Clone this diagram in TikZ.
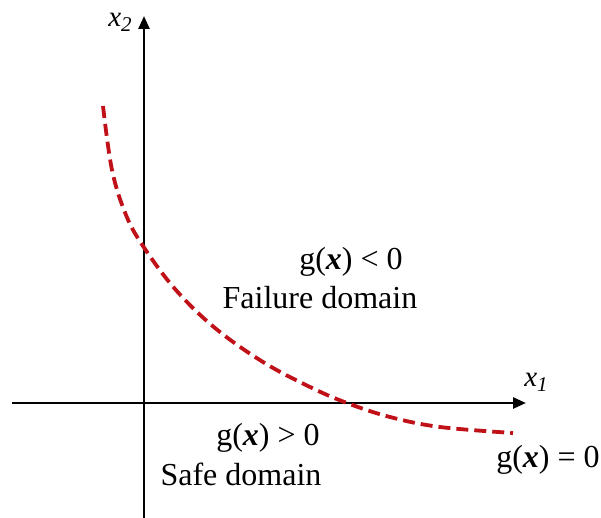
\documentclass[tikz,border=0pt]{standalone}
\usepackage{fontspec}
\setmainfont{Liberation Serif}
\usetikzlibrary{arrows.meta}
\definecolor{limitred}{RGB}{192,16,24}
\tikzset{
  axis/.style={line width=2.5pt,-{Triangle[length=13pt,width=11pt]}},
  limit/.style={limitred,line width=3.8pt,dash pattern=on 12pt off 6pt},
  lbl/.style={font=\fontsize{32}{34}\selectfont,inner sep=0pt},
  axlbl/.style={font=\fontsize{29}{31}\selectfont\itshape,inner sep=0pt}
}
\newcommand{\gx}{g(\textbf{\textit{x}})}
\begin{document}
\begin{tikzpicture}[x=1pt,y=-1pt]
\useasboundingbox (0,0) rectangle (601,518);
\coordinate (ybot) at (144,518);
\coordinate (ytop) at (144,16);
\coordinate (xleft) at (12,403);
\coordinate (xright) at (526,403);
\draw[axis] (ybot) -- (ytop);
\draw[axis] (xleft) -- (xright);
\node[axlbl] (x2) at (120,22) {x\raisebox{-5pt}{\fontsize{21}{23}\selectfont 2}};
\node[axlbl] (x1) at (536,382) {x\raisebox{-5pt}{\fontsize{21}{23}\selectfont 1}};
\draw[limit] plot[smooth,tension=0.6] coordinates {(103,106) (112,170) (126,215) (143,246) (175,289) (215,328) (263,362) (310,387) (347,403) (390,417) (440,427) (513,433)};
\node[lbl] (fail1) at (351,262) {\gx\ < 0};
\node[lbl] (fail2) at (320,298) {Failure domain};
\node[lbl] (safe1) at (268,438) {\gx\ > 0};
\node[lbl] (safe2) at (241,474) {Safe domain};
\node[lbl] (lim) at (548,460) {\gx\ = 0};
\end{tikzpicture}
\end{document}
